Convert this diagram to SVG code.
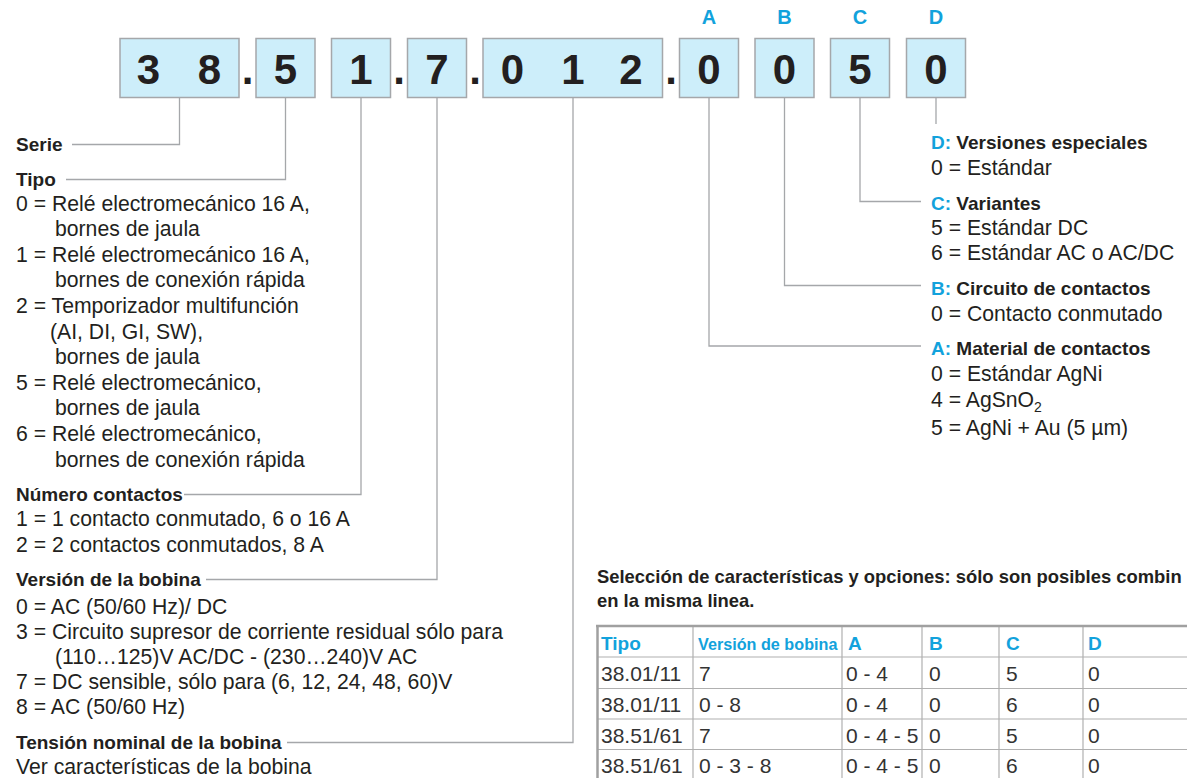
<svg xmlns="http://www.w3.org/2000/svg" width="1187" height="778" viewBox="0 0 1187 778">
<style>
 .t{font-family:"Liberation Sans",Arial,sans-serif;font-size:21.2px;fill:#231f20}
 .b{font-family:"Liberation Sans",Arial,sans-serif;font-size:19px;font-weight:bold;fill:#231f20}
 .h{font-family:"Liberation Sans",Arial,sans-serif;font-size:18.4px;font-weight:bold;fill:#231f20}
 .bl{fill:#12a2dc}
 .dig{font-family:"Liberation Sans",Arial,sans-serif;font-size:42px;font-weight:bold;fill:#231f20;text-anchor:middle}
 .lbl{font-family:"Liberation Sans",Arial,sans-serif;font-size:20px;font-weight:bold;fill:#12a2dc;text-anchor:middle}
 .box{fill:#cdeefa;stroke:#a5a7aa;stroke-width:1.5}
 .conn{fill:none;stroke:#a5a7aa;stroke-width:1.3}
 .th{font-family:"Liberation Sans",Arial,sans-serif;font-size:19px;font-weight:bold;fill:#12a2dc}
 .thn{font-size:16.2px}
 .td{font-family:"Liberation Sans",Arial,sans-serif;font-size:21px;fill:#333333}
 .grid{stroke:#b0b0b0;stroke-width:1.2}
 .outer{stroke:#a0a0a0;stroke-width:2.5}
</style>
<rect width="1187" height="778" fill="#ffffff"/>

<g id="code">
 <g id="box-serie"><rect class="box" x="120" y="38.5" width="119" height="59"/><text class="dig" x="148.5" y="83.5">3</text><text class="dig" x="209.5" y="83.5">8</text></g>
 <text class="dig" x="247.5" y="83.5">.</text>
 <g id="box-tipo"><rect class="box" x="256" y="38.5" width="59" height="59"/><text class="dig" x="285.5" y="83.5">5</text></g>
 <g id="box-contactos"><rect class="box" x="331.5" y="38.5" width="59" height="59"/><text class="dig" x="361" y="83.5">1</text></g>
 <text class="dig" x="399" y="83.5">.</text>
 <g id="box-version"><rect class="box" x="407.5" y="38.5" width="59" height="59"/><text class="dig" x="437" y="83.5">7</text></g>
 <text class="dig" x="475" y="83.5">.</text>
 <g id="box-tension"><rect class="box" x="483" y="38.5" width="179.5" height="59"/><text class="dig" x="512.5" y="83.5">0</text><text class="dig" x="573" y="83.5">1</text><text class="dig" x="631" y="83.5">2</text></g>
 <text class="dig" x="671" y="83.5">.</text>
 <g id="box-a"><rect class="box" x="679.5" y="38.5" width="59" height="59"/><text class="dig" x="709" y="83.5">0</text><text class="lbl" x="709" y="24">A</text></g>
 <g id="box-b"><rect class="box" x="755" y="38.5" width="59" height="59"/><text class="dig" x="784.5" y="83.5">0</text><text class="lbl" x="784.5" y="24">B</text></g>
 <g id="box-c"><rect class="box" x="830.5" y="38.5" width="59" height="59"/><text class="dig" x="860" y="83.5">5</text><text class="lbl" x="860" y="24">C</text></g>
 <g id="box-d"><rect class="box" x="906.5" y="38.5" width="59" height="59"/><text class="dig" x="936" y="83.5">0</text><text class="lbl" x="936" y="24">D</text></g>
</g>

<g id="connectors" class="conn">
 <path d="M179.5 97.5V144.5H72"/>
 <path d="M285.5 97.5V179.5H66"/>
 <path d="M361 97.5V494.5H184"/>
 <path d="M437 97.5V579.5H206"/>
 <path d="M573 97.5V742.5H287"/>
 <path d="M709 97.5V346H921"/>
 <path d="M784.5 97.5V285.5H921"/>
 <path d="M860 97.5V201.5H921"/>
 <path d="M936 97.5V124"/>
</g>

<g id="legend-serie"><text class="b" x="16" y="151">Serie</text></g>

<g id="legend-tipo">
 <text class="b" x="16" y="186">Tipo</text>
 <text class="t" x="16" y="210.5">0 = Relé electromecánico 16 A,</text>
 <text class="t" x="55" y="236">bornes de jaula</text>
 <text class="t" x="16" y="261.7">1 = Relé electromecánico 16 A,</text>
 <text class="t" x="55" y="287.3">bornes de conexión rápida</text>
 <text class="t" x="16" y="313">2 = Temporizador multifunción</text>
 <text class="t" x="50" y="338.5">(AI, DI, GI, SW),</text>
 <text class="t" x="55" y="364">bornes de jaula</text>
 <text class="t" x="16" y="389.8">5 = Relé electromecánico,</text>
 <text class="t" x="55" y="415.4">bornes de jaula</text>
 <text class="t" x="16" y="441">6 = Relé electromecánico,</text>
 <text class="t" x="55" y="466.6">bornes de conexión rápida</text>
</g>

<g id="legend-contactos">
 <text class="b" x="16" y="501">Número contactos</text>
 <text class="t" x="16" y="526">1 = 1 contacto conmutado, 6 o 16 A</text>
 <text class="t" x="16" y="552">2 = 2 contactos conmutados, 8 A</text>
</g>

<g id="legend-version">
 <text class="b" x="16" y="586">Versión de la bobina</text>
 <text class="t" x="16" y="614">0 = AC (50/60 Hz)/ DC</text>
 <text class="t" x="16" y="639">3 = Circuito supresor de corriente residual sólo para</text>
 <text class="t" x="55" y="664">(110…125)V AC/DC - (230…240)V AC</text>
 <text class="t" x="16" y="689">7 = DC sensible, sólo para (6, 12, 24, 48, 60)V</text>
 <text class="t" x="16" y="714">8 = AC (50/60 Hz)</text>
</g>

<g id="legend-tension">
 <text class="b" x="16" y="749">Tensión nominal de la bobina</text>
 <text class="t" x="16" y="774">Ver características de la bobina</text>
</g>

<g id="legend-d">
 <text class="b" x="931" y="149"><tspan class="bl">D:</tspan> Versiones especiales</text>
 <text class="t" x="931" y="175">0 = Estándar</text>
</g>
<g id="legend-c">
 <text class="b" x="931" y="210"><tspan class="bl">C:</tspan> Variantes</text>
 <text class="t" x="931" y="235">5 = Estándar DC</text>
 <text class="t" x="931" y="260">6 = Estándar AC o AC/DC</text>
</g>
<g id="legend-b">
 <text class="b" x="931" y="295"><tspan class="bl">B:</tspan> Circuito de contactos</text>
 <text class="t" x="931" y="320.5">0 = Contacto conmutado</text>
</g>
<g id="legend-a">
 <text class="b" x="931" y="355"><tspan class="bl">A:</tspan> Material de contactos</text>
 <text class="t" x="931" y="381">0 = Estándar AgNi</text>
 <text class="t" x="931" y="407">4 = AgSnO<tspan font-size="14" dy="5">2</tspan></text>
 <text class="t" x="931" y="435">5 = AgNi + Au (5 µm)</text>
</g>

<g id="table">
 <text class="h" x="597" y="583">Selección de características y opciones: sólo son posibles combin</text>
 <text class="h" x="597" y="607">en la misma linea.</text>
 <g class="grid">
  <line x1="597" y1="657" x2="1187" y2="657"/>
  <line x1="597" y1="688.5" x2="1187" y2="688.5"/>
  <line x1="597" y1="719" x2="1187" y2="719"/>
  <line x1="597" y1="749.5" x2="1187" y2="749.5"/>
  <line x1="693" y1="626" x2="693" y2="778"/>
  <line x1="842" y1="626" x2="842" y2="778"/>
  <line x1="922" y1="626" x2="922" y2="778"/>
  <line x1="999" y1="626" x2="999" y2="778"/>
  <line x1="1083" y1="626" x2="1083" y2="778"/>
 </g>
 <g class="outer">
  <line x1="596" y1="626" x2="1187" y2="626"/>
  <line x1="597.5" y1="625" x2="597.5" y2="778"/>
 </g>
 <text class="th" x="601" y="650">Tipo</text>
 <text class="th thn" x="698" y="650">Versión de bobina</text>
 <text class="th" x="848" y="650">A</text>
 <text class="th" x="929" y="650">B</text>
 <text class="th" x="1006" y="650">C</text>
 <text class="th" x="1088" y="650">D</text>

 <text class="td" x="601" y="681">38.01/11</text><text class="td" x="699" y="681">7</text><text class="td" x="846" y="681">0 - 4</text><text class="td" x="929" y="681">0</text><text class="td" x="1006" y="681">5</text><text class="td" x="1088" y="681">0</text>
 <text class="td" x="601" y="712">38.01/11</text><text class="td" x="699" y="712">0 - 8</text><text class="td" x="846" y="712">0 - 4</text><text class="td" x="929" y="712">0</text><text class="td" x="1006" y="712">6</text><text class="td" x="1088" y="712">0</text>
 <text class="td" x="601" y="742.5">38.51/61</text><text class="td" x="699" y="742.5">7</text><text class="td" x="846" y="742.5">0 - 4 - 5</text><text class="td" x="929" y="742.5">0</text><text class="td" x="1006" y="742.5">5</text><text class="td" x="1088" y="742.5">0</text>
 <text class="td" x="601" y="773">38.51/61</text><text class="td" x="699" y="773">0 - 3 - 8</text><text class="td" x="846" y="773">0 - 4 - 5</text><text class="td" x="929" y="773">0</text><text class="td" x="1006" y="773">6</text><text class="td" x="1088" y="773">0</text>
</g>
</svg>
